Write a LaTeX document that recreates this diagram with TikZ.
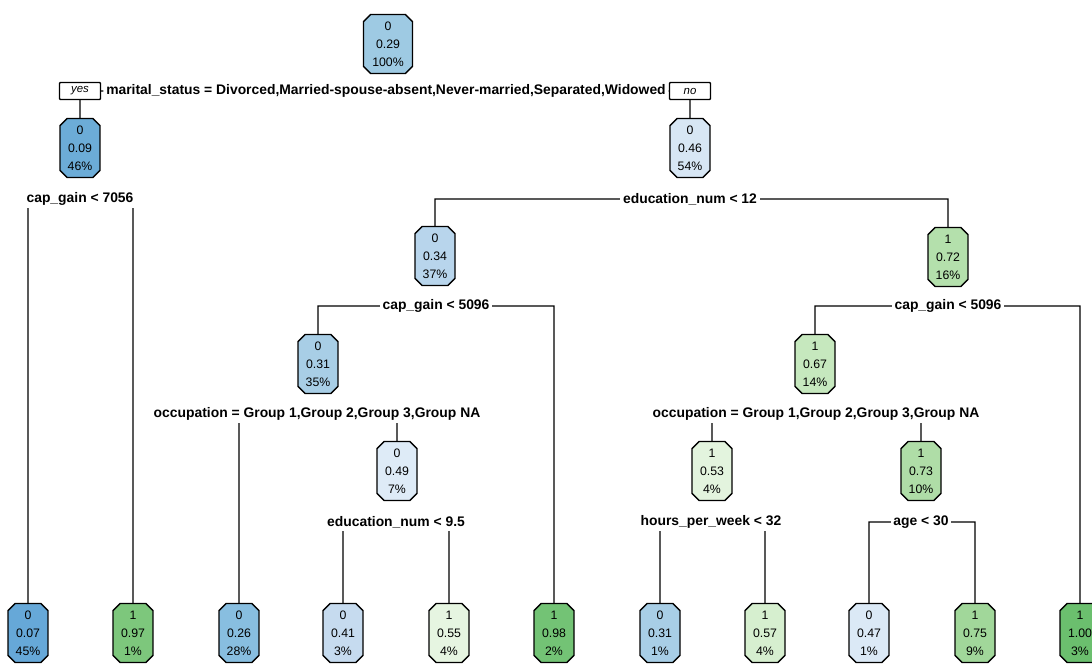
\documentclass[tikz,border=0pt]{standalone}
\usepackage{fontspec}
\setmainfont{Liberation Sans}
\usetikzlibrary{shapes.misc,positioning,backgrounds}
\usepackage{xcolor}

\definecolor{b07}{HTML}{66A8D8}
\definecolor{b09}{HTML}{6CACD7}
\definecolor{b26}{HTML}{88BEE0}
\definecolor{b29}{HTML}{9ECAE3}
\definecolor{b31}{HTML}{A8CEE6}
\definecolor{b34}{HTML}{B8D5EC}
\definecolor{b41}{HTML}{C6DBEF}
\definecolor{b46}{HTML}{D7E6F4}
\definecolor{b47}{HTML}{DBE9F6}
\definecolor{b49}{HTML}{DEEBF7}
\definecolor{g53}{HTML}{E3F4DE}
\definecolor{g55}{HTML}{E6F5E1}
\definecolor{g57}{HTML}{D6EFCF}
\definecolor{g67}{HTML}{C6E8BE}
\definecolor{g72}{HTML}{B4E0AC}
\definecolor{g73}{HTML}{AFDDA7}
\definecolor{g75}{HTML}{A1D79A}
\definecolor{g97}{HTML}{7DC77C}
\definecolor{g98}{HTML}{73C375}
\definecolor{g100}{HTML}{6BBF6E}

\begin{document}
\begin{tikzpicture}[x=0.02cm,y=-0.02cm]
\tikzstyle{vertex} = [shape=chamfered rectangle, chamfered rectangle xsep=2pt, chamfered rectangle ysep=2pt, draw=black, line width=0.8pt, minimum width=0.8cm, minimum height=1.18cm, inner sep=1pt, align=center, font=\fontsize{7}{10.2}\selectfont];
\tikzstyle{split} = [fill=white, inner sep=1.5pt, font=\fontsize{7.9}{9}\selectfont\bfseries];
\tikzstyle{answer} = [draw=black, fill=white, line width=0.8pt, rounded corners=0.5pt, minimum width=0.82cm, minimum height=0.34cm, inner sep=0pt, font=\fontsize{6.5}{8}\selectfont\itshape];
\tikzstyle{branch} = [line width=0.8pt];
\useasboundingbox (0,0) rectangle (1092,665);

% inner nodes
\node[vertex, fill=b29, minimum width=0.98cm](Root) at (388,44) {0\\0.29\\100\%};
\node[vertex, fill=b09](Single) at (80,148) {0\\0.09\\46\%};
\node[vertex, fill=b46](Married) at (690,148) {0\\0.46\\54\%};
\node[vertex, fill=b34](LowEdu) at (435,256) {0\\0.34\\37\%};
\node[vertex, fill=g72](HighEdu) at (948,257) {1\\0.72\\16\%};
\node[vertex, fill=b31](LowGainA) at (318,364) {0\\0.31\\35\%};
\node[vertex, fill=g67](LowGainB) at (815,364) {1\\0.67\\14\%};
\node[vertex, fill=b49](OccA) at (397,471) {0\\0.49\\7\%};
\node[vertex, fill=g53](OccB) at (712,471) {1\\0.53\\4\%};
\node[vertex, fill=g73](OccC) at (921,471) {1\\0.73\\10\%};

% leaves
\node[vertex, fill=b07](LeafA) at (28,633) {0\\0.07\\45\%};
\node[vertex, fill=g97](LeafB) at (133,633) {1\\0.97\\1\%};
\node[vertex, fill=b26](LeafC) at (239,633) {0\\0.26\\28\%};
\node[vertex, fill=b41](LeafD) at (343,633) {0\\0.41\\3\%};
\node[vertex, fill=g55](LeafE) at (449,633) {1\\0.55\\4\%};
\node[vertex, fill=g98](LeafF) at (554,633) {1\\0.98\\2\%};
\node[vertex, fill=b31](LeafG) at (660,633) {0\\0.31\\1\%};
\node[vertex, fill=g57](LeafH) at (765,633) {1\\0.57\\4\%};
\node[vertex, fill=b47](LeafI) at (869,633) {0\\0.47\\1\%};
\node[vertex, fill=g75](LeafJ) at (975,633) {1\\0.75\\9\%};
\node[vertex, fill=g100](LeafK) at (1080,633) {1\\1.00\\3\%};

% split labels
\node[split](SplitMar) at (386,91) {marital\_status = Divorced,Married-spouse-absent,Never-married,Separated,Widowed};
\node[answer](Yes) at (80,91) {yes};
\node[answer](No) at (690,91) {no};
\node[split](SplitGainA) at (80,199) {cap\_gain < 7056};
\node[split](SplitEdu) at (690,199) {education\_num < 12};
\node[split](SplitGainB) at (436,306) {cap\_gain < 5096};
\node[split](SplitGainC) at (948,306) {cap\_gain < 5096};
\node[split](SplitOccA) at (317,414) {occupation = Group 1,Group 2,Group 3,Group NA};
\node[split](SplitOccB) at (816,414) {occupation = Group 1,Group 2,Group 3,Group NA};
\node[split](SplitEduB) at (396,522) {education\_num < 9.5};
\node[split](SplitHours) at (711,522) {hours\_per\_week < 32};
\node[split](SplitAge) at (921,522) {age < 30};

% branches go behind the labels
\begin{pgfonlayer}{background}
\draw[branch]
    (SplitMar) -- (Yes) (Yes) -- (Single)
    (SplitMar) -- (No) (No) -- (Married)
    (SplitGainA.center) -| (LeafA) (SplitGainA.center) -| (LeafB)
    (SplitEdu.center) -| (LowEdu) (SplitEdu.center) -| (HighEdu)
    (SplitGainB.center) -| (LowGainA) (SplitGainB.center) -| (LeafF)
    (SplitGainC.center) -| (LowGainB) (SplitGainC.center) -| (LeafK)
    (SplitOccA.center) -| (LeafC) (SplitOccA.center) -| (OccA)
    (SplitOccB.center) -| (OccB) (SplitOccB.center) -| (OccC)
    (SplitEduB.center) -| (LeafD) (SplitEduB.center) -| (LeafE)
    (SplitHours.center) -| (LeafG) (SplitHours.center) -| (LeafH)
    (SplitAge.center) -| (LeafI) (SplitAge.center) -| (LeafJ)
;
\end{pgfonlayer}
\end{tikzpicture}
\end{document}
